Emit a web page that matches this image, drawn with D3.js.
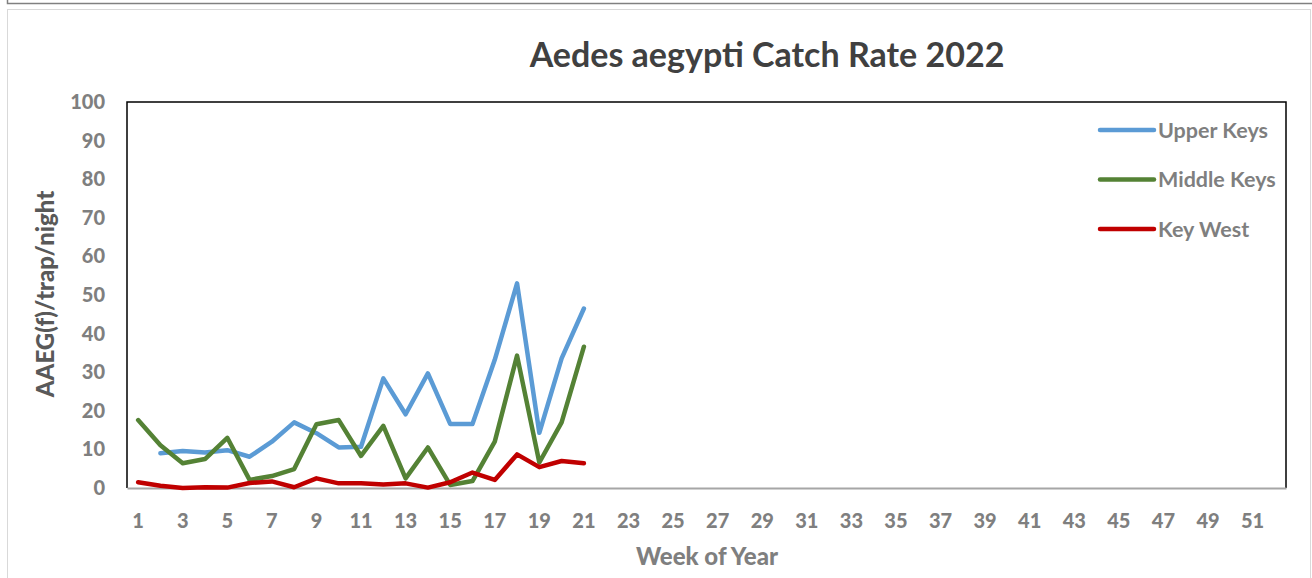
<!DOCTYPE html>
<html>
<head>
<meta charset="utf-8">
<script src="https://cdn.jsdelivr.net/npm/d3@7"></script>
<style>
  body { margin: 0; background: #fff; }
  svg { display: block; font-family: Lato, "Open Sans", sans-serif; }
</style>
</head>
<body>
<svg id="chart" width="1312" height="578"></svg>
<script>
// weeks 1..52 on a category axis, labels on odd weeks
const weeks = d3.range(1, 53);
const yTicks = d3.range(0, 101, 10);

const seriesNames = ['Upper Keys', 'Middle Keys', 'Key West'];
const seriesColors = ['#5b9bd5', '#548235', '#c00000'];

// null = no sample that week
const upperKeys = [null, 9.0, 9.6, 9.2, 9.8, 8.1, 12.0, 17.0, 14.2, 10.5, 10.7,
  28.4, 19.1, 29.7, 16.6, 16.6, 33.2, 53.0, 14.3, 33.6, 46.5];
const middleKeys = [17.6, 11.1, 6.4, 7.5, 13.0, 2.1, 3.1, 4.9, 16.5, 17.6, 8.3,
  16.1, 2.5, 10.5, 0.8, 1.8, 12.0, 34.3, 6.6, 17.0, 36.6];
const keyWest = [1.5, 0.6, 0.0, 0.2, 0.1, 1.3, 1.7, 0.2, 2.5, 1.2, 1.2,
  0.9, 1.2, 0.1, 1.5, 4.0, 2.1, 8.7, 5.4, 7.0, 6.4];

const allSeries = [upperKeys, middleKeys, keyWest];

const svg = d3.select('#chart');
const margin = {left: 127, right: 26, top: 102, bottom: 90};
const W = 1312, H = 578;
const innerW = W - margin.left - margin.right;
const innerH = H - margin.top - margin.bottom;

// outer frames
svg.append('rect').attr('x', 7.5).attr('y', -10).attr('width', 1310).attr('height', 13.5)
  .attr('fill', 'none').attr('stroke', '#808080').attr('stroke-width', 1.5);
svg.append('rect').attr('x', 7.5).attr('y', 9.5).attr('width', 1303).attr('height', 600)
  .attr('fill', 'none').attr('stroke', '#d9d9d9').attr('stroke-width', 1);

const x = d3.scaleBand().domain(weeks).range([0, innerW]);
const y = d3.scaleLinear().domain([0, 100]).range([innerH, 0]);

const g = svg.append('g').attr('transform', `translate(${margin.left},${margin.top})`);

// plot frame: black left/top/right, gray bottom axis
g.append('path')
  .attr('d', `M0,${innerH}V0H${innerW}V${innerH}`)
  .attr('fill', 'none').attr('stroke', '#000').attr('stroke-width', 1.5);

const xAxis = d3.axisBottom(x)
  .tickValues(weeks.filter(w => w % 2 === 1))
  .tickSize(0).tickPadding(26);
g.append('g').attr('transform', `translate(0,${innerH})`).call(xAxis)
  .call(s => s.select('.domain').attr('stroke', '#a6a6a6').attr('stroke-width', 2))
  .call(s => s.selectAll('text').attr('fill', '#7f7f7f')
    .attr('font-size', 20).attr('font-weight', 900).attr('font-family', 'Lato, sans-serif'));

const yAxis = d3.axisLeft(y).tickValues(yTicks).tickSize(0).tickPadding(22);
g.append('g').call(yAxis)
  .call(s => s.select('.domain').remove())
  .call(s => s.selectAll('text').attr('fill', '#7f7f7f')
    .attr('font-size', 20).attr('font-weight', 900).attr('font-family', 'Lato, sans-serif'));

const line = d3.line()
  .defined(d => d != null)
  .x((d, i) => x(weeks[i]) + x.bandwidth() / 2)
  .y(d => y(d));

g.selectAll('.series')
  .data(allSeries)
  .enter()
  .append('path')
  .attr('class', 'series')
  .attr('d', line)
  .attr('fill', 'none')
  .attr('stroke', (d, i) => seriesColors[i])
  .attr('stroke-width', 4.5)
  .attr('stroke-linejoin', 'round')
  .attr('stroke-linecap', 'round');

// legend
const legend = svg.append('g').attr('transform', 'translate(1100,130)');
const item = legend.selectAll('.item').data(seriesNames).enter()
  .append('g').attr('transform', (d, i) => `translate(0,${i * 49.5})`);
item.append('line').attr('x1', 0).attr('x2', 54).attr('y1', 0).attr('y2', 0)
  .attr('stroke', (d, i) => seriesColors[i]).attr('stroke-width', 4.5).attr('stroke-linecap', 'round');
item.append('text').attr('x', 58).attr('y', 7.5).text(d => d)
  .attr('fill', '#7f7f7f').attr('font-size', 21.5).attr('font-weight', 'bold');

// titles
svg.append('text').attr('x', 767).attr('y', 67).attr('text-anchor', 'middle')
  .attr('font-size', 34).attr('font-weight', 'bold').attr('fill', '#404040')
  .text('Aedes aegypti Catch Rate 2022');

svg.append('text').attr('x', 707).attr('y', 565).attr('text-anchor', 'middle')
  .attr('font-size', 24).attr('font-weight', 900).attr('fill', '#7f7f7f')
  .text('Week of Year');

svg.append('text').attr('transform', 'translate(54,294) rotate(-90)').attr('text-anchor', 'middle')
  .attr('font-size', 24).attr('font-weight', 900).attr('fill', '#595959')
  .text('AAEG(f)/trap/night');
</script>
</body>
</html>
